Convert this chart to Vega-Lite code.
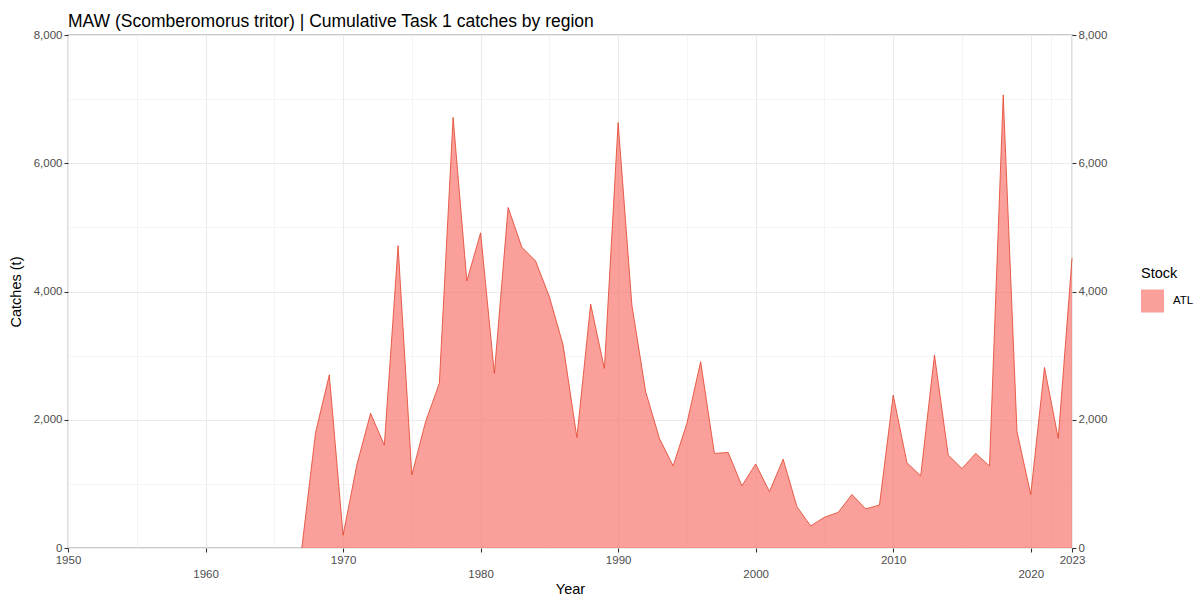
{
  "$schema": "https://vega.github.io/schema/vega-lite/v6.json",
  "width": 1004,
  "height": 513,
  "autosize": {"type": "none"},
  "padding": {"left": 68, "top": 35, "right": 131, "bottom": 53},
  "background": "white",
  "config": {
    "font": "Liberation Sans",
    "view": {"stroke": "#333333", "strokeWidth": 1.1},
    "axis": {"labelFont": "Liberation Sans", "titleFont": "Liberation Sans", "labelColor": "#4D4D4D", "labelFontSize": 11.5, "titleColor": "#000000", "titleFontSize": 14.5, "titleFontWeight": "normal", "tickColor": "#333333", "tickSize": 4, "tickWidth": 1.1, "gridColor": "#EBEBEB", "domain": false, "labelOverlap": false, "labelFlush": false}
  },
  "title": {"text": "MAW (Scomberomorus tritor) | Cumulative Task 1 catches by region", "anchor": "start", "frame": "group", "font": "Liberation Sans", "fontSize": 17.5, "fontWeight": "normal", "color": "#000000", "baseline": "alphabetic", "offset": -15},
  "data": {"values": [
    {"Year": 1967, "Catch": 0, "Stock": "ATL"},
    {"Year": 1968, "Catch": 1800, "Stock": "ATL"},
    {"Year": 1969, "Catch": 2700, "Stock": "ATL"},
    {"Year": 1970, "Catch": 200, "Stock": "ATL"},
    {"Year": 1971, "Catch": 1295, "Stock": "ATL"},
    {"Year": 1972, "Catch": 2100, "Stock": "ATL"},
    {"Year": 1973, "Catch": 1605, "Stock": "ATL"},
    {"Year": 1974, "Catch": 4715, "Stock": "ATL"},
    {"Year": 1975, "Catch": 1140, "Stock": "ATL"},
    {"Year": 1976, "Catch": 1970, "Stock": "ATL"},
    {"Year": 1977, "Catch": 2570, "Stock": "ATL"},
    {"Year": 1978, "Catch": 6715, "Stock": "ATL"},
    {"Year": 1979, "Catch": 4165, "Stock": "ATL"},
    {"Year": 1980, "Catch": 4915, "Stock": "ATL"},
    {"Year": 1981, "Catch": 2725, "Stock": "ATL"},
    {"Year": 1982, "Catch": 5310, "Stock": "ATL"},
    {"Year": 1983, "Catch": 4690, "Stock": "ATL"},
    {"Year": 1984, "Catch": 4475, "Stock": "ATL"},
    {"Year": 1985, "Catch": 3920, "Stock": "ATL"},
    {"Year": 1986, "Catch": 3165, "Stock": "ATL"},
    {"Year": 1987, "Catch": 1725, "Stock": "ATL"},
    {"Year": 1988, "Catch": 3805, "Stock": "ATL"},
    {"Year": 1989, "Catch": 2800, "Stock": "ATL"},
    {"Year": 1990, "Catch": 6635, "Stock": "ATL"},
    {"Year": 1991, "Catch": 3790, "Stock": "ATL"},
    {"Year": 1992, "Catch": 2440, "Stock": "ATL"},
    {"Year": 1993, "Catch": 1710, "Stock": "ATL"},
    {"Year": 1994, "Catch": 1280, "Stock": "ATL"},
    {"Year": 1995, "Catch": 1945, "Stock": "ATL"},
    {"Year": 1996, "Catch": 2905, "Stock": "ATL"},
    {"Year": 1997, "Catch": 1475, "Stock": "ATL"},
    {"Year": 1998, "Catch": 1490, "Stock": "ATL"},
    {"Year": 1999, "Catch": 970, "Stock": "ATL"},
    {"Year": 2000, "Catch": 1310, "Stock": "ATL"},
    {"Year": 2001, "Catch": 880, "Stock": "ATL"},
    {"Year": 2002, "Catch": 1385, "Stock": "ATL"},
    {"Year": 2003, "Catch": 645, "Stock": "ATL"},
    {"Year": 2004, "Catch": 345, "Stock": "ATL"},
    {"Year": 2005, "Catch": 480, "Stock": "ATL"},
    {"Year": 2006, "Catch": 555, "Stock": "ATL"},
    {"Year": 2007, "Catch": 835, "Stock": "ATL"},
    {"Year": 2008, "Catch": 610, "Stock": "ATL"},
    {"Year": 2009, "Catch": 670, "Stock": "ATL"},
    {"Year": 2010, "Catch": 2385, "Stock": "ATL"},
    {"Year": 2011, "Catch": 1330, "Stock": "ATL"},
    {"Year": 2012, "Catch": 1125, "Stock": "ATL"},
    {"Year": 2013, "Catch": 3010, "Stock": "ATL"},
    {"Year": 2014, "Catch": 1450, "Stock": "ATL"},
    {"Year": 2015, "Catch": 1240, "Stock": "ATL"},
    {"Year": 2016, "Catch": 1475, "Stock": "ATL"},
    {"Year": 2017, "Catch": 1280, "Stock": "ATL"},
    {"Year": 2018, "Catch": 7065, "Stock": "ATL"},
    {"Year": 2019, "Catch": 1815, "Stock": "ATL"},
    {"Year": 2020, "Catch": 835, "Stock": "ATL"},
    {"Year": 2021, "Catch": 2815, "Stock": "ATL"},
    {"Year": 2022, "Catch": 1710, "Stock": "ATL"},
    {"Year": 2023, "Catch": 4520, "Stock": "ATL"}
  ]},
  "layer": [
    {
      "mark": {"type": "area", "fillOpacity": 0.7, "strokeWidth": 0},
      "encoding": {
        "x": {"field": "Year", "type": "quantitative",
          "scale": {"domain": [1950, 2023], "nice": false, "zero": false},
          "axis": {"title": "Year", "values": [1950, 1955, 1960, 1965, 1970, 1975, 1980, 1985, 1990, 1995, 2000, 2005, 2010, 2015, 2020, 2021.5, 2023],
            "format": ".0f",
            "labelExpr": "indexof([1950,1960,1970,1980,1990,2000,2010,2020,2023], datum.value) >= 0 ? datum.label : ''",
            "labelPadding": {"condition": {"test": "indexof([1960,1980,2000,2020], datum.value) >= 0", "value": 16}, "value": 2},
            "tickOpacity": {"condition": {"test": "indexof([1950,1960,1970,1980,1990,2000,2010,2020,2023], datum.value) < 0", "value": 0}, "value": 1},
            "gridWidth": {"condition": {"test": "indexof([1950,1960,1970,1980,1990,2000,2010,2020,2023], datum.value) < 0", "value": 0.55}, "value": 1.1},
            "titlePadding": 3}},
        "y": {"field": "Catch", "type": "quantitative",
          "scale": {"domain": [0, 8000], "nice": false},
          "axis": {"title": "Catches (t)", "orient": "left", "values": [0, 1000, 2000, 3000, 4000, 5000, 6000, 7000, 8000],
            "format": ",.0f",
            "labelExpr": "datum.value % 2000 == 0 ? datum.label : ''",
            "labelPadding": 2,
            "tickOpacity": {"condition": {"test": "datum.value % 2000 != 0", "value": 0}, "value": 1},
            "gridWidth": {"condition": {"test": "datum.value % 2000 != 0", "value": 0.55}, "value": 1.1},
            "titlePadding": 10}},
        "fill": {"field": "Stock", "type": "nominal",
          "scale": {"range": ["#F8766D"]},
          "legend": {"title": "Stock", "orient": "none", "legendX": 1073, "legendY": 232,
            "titleFont": "Liberation Sans", "titleFontSize": 14.5, "titleFontWeight": "normal", "titleColor": "#000000", "titlePadding": 8,
            "labelFont": "Liberation Sans", "labelFontSize": 11.5, "labelColor": "#000000", "labelOffset": 9,
            "symbolType": "square", "symbolSize": 529, "symbolOpacity": 0.7, "symbolStrokeWidth": 0, "padding": 0}}
      }
    },
    {
      "mark": {"type": "line", "color": "#E2402A", "strokeWidth": 0.8},
      "encoding": {
        "x": {"field": "Year", "type": "quantitative", "scale": {"domain": [1950, 2023], "nice": false, "zero": false}},
        "y": {"field": "Catch", "type": "quantitative",
          "scale": {"domain": [0, 8000], "nice": false},
          "axis": {"title": null, "orient": "right", "values": [0, 2000, 4000, 6000, 8000], "format": ",.0f", "grid": false, "labelPadding": 2}}
      }
    }
  ],
  "resolve": {"axis": {"y": "independent"}}
}
